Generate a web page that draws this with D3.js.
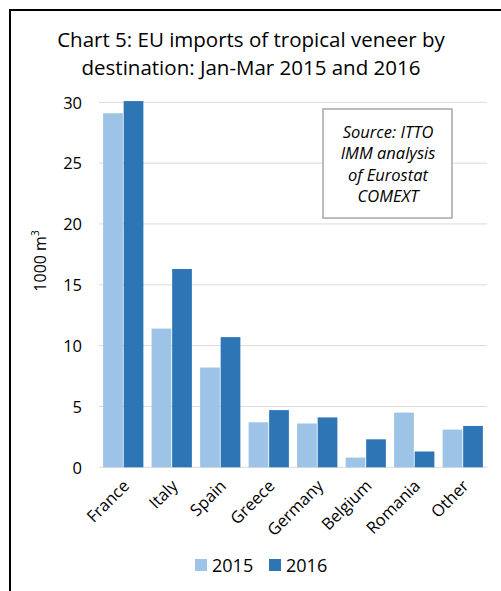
<!DOCTYPE html>
<html><head><meta charset="utf-8">
<script src="https://cdn.jsdelivr.net/npm/d3@7"></script>
<style>body{margin:0;background:#fff}svg{display:block}</style>
</head><body>
<script>
const categories = ["France","Italy","Spain","Greece","Germany","Belgium","Romania","Other"];
const values2015 = [29.1,11.4,8.2,3.7,3.6,0.8,4.5,3.1];
const values2016 = [30.1,16.3,10.7,4.7,4.1,2.3,1.3,3.4];
const seriesNames = ["2015","2016"];
const yTicks = [0,5,10,15,20,25,30];
const titleLines = ["Chart 5: EU imports of tropical veneer by","destination: Jan-Mar 2015 and 2016"];
const sourceLines = ["Source: ITTO","IMM analysis","of Eurostat","COMEXT"];

const W=501,H=591;
const font="Open Sans, Noto Sans, sans-serif";
const colors=["#9DC3E6","#2E75B6"];
const svg=d3.select("body").append("svg").attr("width",W).attr("height",H);
svg.append("rect").attr("width",W).attr("height",H).attr("fill","#fff");
svg.append("path").attr("d",`M10,${H} L10,10 L${W},10`).attr("fill","none").attr("stroke","#000").attr("stroke-width",2);

svg.selectAll("text.title").data(titleLines).join("text")
  .attr("x",251).attr("y",(d,i)=>47+i*28).attr("text-anchor","middle")
  .attr("font-family",font).attr("font-size",20.5).attr("fill","#000").text(d=>d);

const x0=d3.scaleBand().domain(categories).range([99,487]).paddingInner(0.17).paddingOuter(0.085);
const x1=d3.scaleBand().domain(seriesNames).range([0,x0.bandwidth()]).paddingInner(0.04);
const y=d3.scaleLinear().domain([0,30]).range([467.3,102.3]);

svg.append("g").selectAll("line").data(yTicks).join("line")
  .attr("x1",99).attr("x2",487).attr("y1",d=>y(d)).attr("y2",d=>y(d))
  .attr("stroke","#d9d9d9").attr("stroke-width",1);

const yAxis=d3.axisLeft(y).tickValues(yTicks).tickSize(0).tickPadding(0);
const ya=svg.append("g").attr("transform","translate(82,0)").call(yAxis);
ya.select(".domain").remove();
ya.selectAll("text").attr("font-family",font).attr("font-size",16.5).attr("fill","#000").attr("dy","0.35em");

const data=categories.map((c,i)=>({c,v:[values2015[i],values2016[i]]}));
const grp=svg.selectAll("g.cat").data(data).join("g").attr("class","cat").attr("transform",d=>`translate(${x0(d.c)},0)`);
grp.selectAll("rect").data(d=>d.v.map((v,j)=>({s:seriesNames[j],v,j}))).join("rect")
  .attr("x",d=>x1(d.s)).attr("width",x1.bandwidth())
  .attr("y",d=>y(d.v)).attr("height",d=>y(0)-y(d.v))
  .attr("fill",d=>colors[d.j]);

const xAxis=d3.axisBottom(x0).tickSize(0).tickPadding(0);
const xa=svg.append("g").attr("transform","translate(0,475)").call(xAxis);
xa.select(".domain").remove();
xa.selectAll("text").attr("font-family",font).attr("font-size",16.5).attr("fill","#000")
  .attr("text-anchor","end").attr("dy",0).attr("y",0)
  .attr("transform","translate(7,12) rotate(-45)");

svg.append("text").attr("transform","translate(46,261) rotate(-90)").attr("text-anchor","middle")
  .attr("font-family",font).attr("font-size",16).attr("fill","#000")
  .text("1000 m").append("tspan").attr("font-size",10).attr("dy",-7).text("3");

svg.append("rect").attr("x",323).attr("y",109).attr("width",129).attr("height",109)
  .attr("fill","#fff").attr("stroke","#a6a6a6").attr("stroke-width",1.5);
svg.selectAll("text.src").data(sourceLines).join("text")
  .attr("x",388).attr("y",(d,i)=>138+i*21.3).attr("text-anchor","middle")
  .attr("font-family",font).attr("font-style","italic").attr("font-size",16.5).attr("fill","#000").text(d=>d);

const lx=[195,269];
const lg=svg.selectAll("g.leg").data(seriesNames).join("g").attr("transform",(d,i)=>`translate(${lx[i]},559)`);
lg.append("rect").attr("width",12).attr("height",12).attr("fill",(d,i)=>colors[i]);
lg.append("text").attr("x",17).attr("y",12.5).attr("font-family",font).attr("font-size",18).attr("fill","#000").text(d=>d);
</script>
</body></html>
